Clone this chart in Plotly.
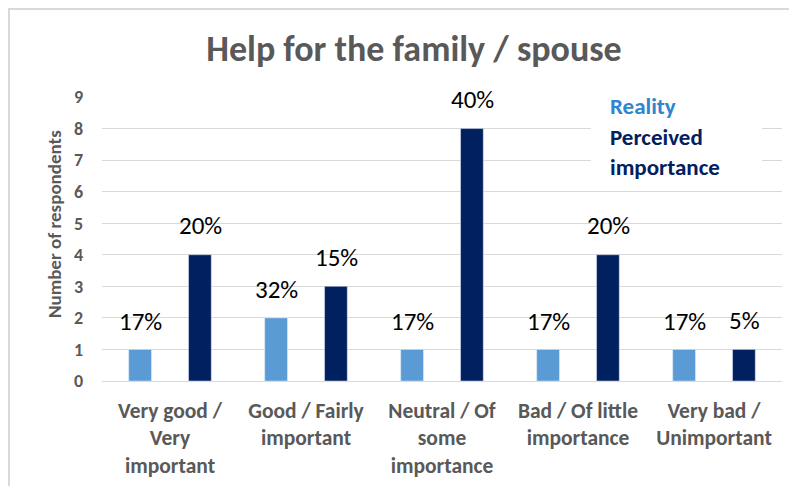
import plotly.graph_objects as go

categories = ["Very good /<br>Very<br>important", "Good / Fairly<br>important",
              "Neutral / Of<br>some<br>importance", "Bad / Of little<br>importance",
              "Very bad /<br>Unimportant"]
reality = [1, 2, 1, 1, 1]
reality_labels = ["17%", "32%", "17%", "17%", "17%"]
perceived = [4, 3, 8, 4, 1]
perceived_labels = ["20%", "15%", "40%", "20%", "5%"]
y_ticks = list(range(0, 10))

FONT = "Carlito, Lato, sans-serif"
LIGHT = "#5B9BD5"
DARK = "#002060"
GRAY = "#595959"

W, H = 797, 486
ML, MR, MT, MB = 94, 23, 89, 113

fig = go.Figure()
fig.add_trace(go.Bar(x=categories, y=reality, name="Reality", marker_color=LIGHT,
                     showlegend=False, hoverinfo="skip"))
fig.add_trace(go.Bar(x=categories, y=perceived, name="Perceived importance", marker_color=DARK,
                     showlegend=False, hoverinfo="skip"))

pw, ph = W - ML - MR, H - MT - MB
def px(x): return (x - ML) / pw
def py(y): return (H - MB - y) / ph

annotations = []
for i, c in enumerate(categories):
    annotations.append(dict(x=c, y=reality[i], xref="x", yref="y", text=reality_labels[i],
                            showarrow=False, xshift=-30, yshift=28, yanchor="middle",
                            font=dict(family=FONT, size=25, color="#000000")))
    annotations.append(dict(x=c, y=perceived[i], xref="x", yref="y", text=perceived_labels[i],
                            showarrow=False, xshift=30, yshift=29, yanchor="middle",
                            font=dict(family=FONT, size=25, color="#000000")))

annotations.append(dict(x=px(46), y=py(216), xref="paper", yref="paper",
                        text="<b>Number of respondents</b>", textangle=-90, showarrow=False,
                        xanchor="center", yanchor="middle",
                        font=dict(family=FONT, size=19, color=GRAY)))
annotations.append(dict(x=px(600), y=py(98), xref="paper", yref="paper", text="<b>Reality</b>",
                        showarrow=False, xanchor="left", yanchor="middle",
                        font=dict(family=FONT, size=23, color="#2E86CE")))
annotations.append(dict(x=px(600), y=py(144), xref="paper", yref="paper",
                        text="<b>Perceived<br>importance</b>", align="left",
                        showarrow=False, xanchor="left", yanchor="middle",
                        font=dict(family=FONT, size=23, color=DARK)))

fig.update_layout(
    width=W, height=H,
    margin=dict(l=ML, r=MR, t=MT, b=MB),
    paper_bgcolor="white", plot_bgcolor="white",
    barmode="group", bargap=0.12, bargroupgap=0.62,
    title=dict(text="<b>Help for the family / spouse</b>", x=406 / W, xanchor="center",
               y=1 - 40 / H, yanchor="middle", yref="container",
               font=dict(family=FONT, size=36, color=GRAY)),
    xaxis=dict(showline=False, ticks="", ticklabelstandoff=14,
               tickfont=dict(family=FONT, size=21.5, color=GRAY, weight="bold")),
    yaxis=dict(range=[0, 9], tickvals=y_ticks, showgrid=True, gridcolor="#D9D9D9", gridwidth=1,
               zeroline=True, zerolinecolor="#D9D9D9", zerolinewidth=1, ticks="",
               ticklabelstandoff=18,
               tickfont=dict(family=FONT, size=18, color=GRAY, weight="bold")),
    font=dict(family=FONT),
    annotations=annotations,
    shapes=[
        dict(type="rect", xref="paper", yref="paper", x0=px(583), x1=px(754), y0=py(174), y1=py(84),
             fillcolor="white", line=dict(width=0), layer="above"),
        dict(type="rect", xref="paper", yref="paper", x0=px(1), x1=px(W + 10), y0=py(H + 10), y1=py(1),
             fillcolor="rgba(0,0,0,0)", line=dict(color="#D9D9D9", width=2), layer="above"),
    ],
)

fig.write_html("out.html")
